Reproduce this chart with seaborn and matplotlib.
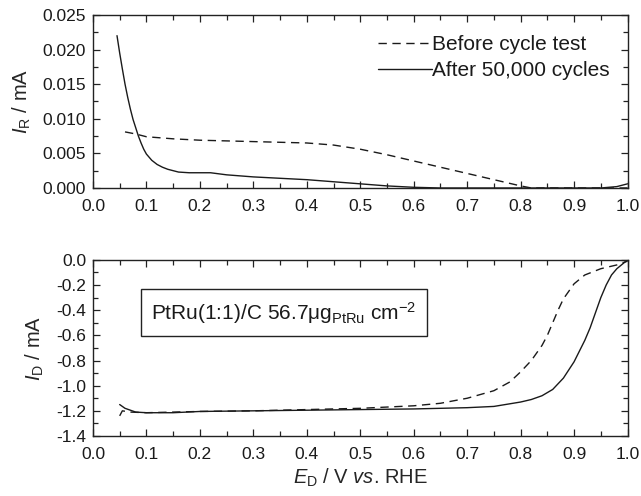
import numpy as np
import pandas as pd
import matplotlib
matplotlib.use("Agg")
import matplotlib.pyplot as plt
import seaborn as sns
from matplotlib.ticker import MultipleLocator, FormatStrFormatter

# ---------------- Daten ----------------
# oben: Ring-Strom I_R
r_before_x = [0.06, 0.08, 0.10, 0.15, 0.20, 0.25, 0.30, 0.35, 0.40, 0.45, 0.50, 0.55,
              0.60, 0.65, 0.70, 0.75, 0.80, 0.82, 0.85, 0.90, 0.95, 1.00]
r_before_y = [0.0081, 0.0078, 0.0074, 0.0071, 0.0069, 0.0068, 0.0067, 0.0066, 0.0065,
              0.0062, 0.0056, 0.0048, 0.0039, 0.0030, 0.0021, 0.0012, 0.0003, 0.0,
              0.0, 0.0, 0.0, 0.0]
r_after_x = [0.045, 0.05, 0.055, 0.06, 0.065, 0.07, 0.075, 0.08, 0.085, 0.09, 0.095, 0.10,
             0.11, 0.12, 0.13, 0.14, 0.15, 0.16, 0.18, 0.20, 0.22, 0.25, 0.30, 0.35,
             0.40, 0.45, 0.50, 0.55, 0.60, 0.65, 0.70, 0.80, 0.90, 0.95, 0.98, 1.00]
r_after_y = [0.0220, 0.0195, 0.0172, 0.0150, 0.0131, 0.0114, 0.0099, 0.0087, 0.0075,
             0.0065, 0.0056, 0.0049, 0.0040, 0.0034, 0.0030, 0.0027, 0.0025, 0.0023,
             0.0022, 0.0022, 0.0022, 0.0019, 0.0016, 0.0014, 0.0012, 0.0009, 0.0006,
             0.0003, 0.0001, 0.0, 0.0, 0.0, 0.0, 0.0, 0.0002, 0.0006]

# unten: Disk-Strom I_D
d_before_x = [0.05, 0.055, 0.07, 0.10, 0.20, 0.30, 0.40, 0.50, 0.60, 0.65, 0.70, 0.75,
              0.78, 0.80, 0.82, 0.84, 0.85, 0.86, 0.87, 0.88, 0.90, 0.92, 0.95, 0.98, 1.00]
d_before_y = [-1.24, -1.20, -1.21, -1.215, -1.205, -1.20, -1.19, -1.18, -1.16, -1.14,
              -1.10, -1.04, -0.97, -0.89, -0.80, -0.68, -0.60, -0.50, -0.40, -0.31,
              -0.19, -0.12, -0.07, -0.04, -0.01]
d_after_x = [0.05, 0.06, 0.08, 0.10, 0.15, 0.20, 0.30, 0.40, 0.50, 0.60, 0.70, 0.75,
             0.80, 0.82, 0.84, 0.86, 0.88, 0.90, 0.92, 0.93, 0.94, 0.95, 0.96, 0.97,
             0.98, 0.99, 1.00]
d_after_y = [-1.15, -1.18, -1.21, -1.215, -1.215, -1.205, -1.20, -1.195, -1.19, -1.185,
             -1.175, -1.165, -1.13, -1.11, -1.08, -1.03, -0.94, -0.81, -0.64, -0.54,
             -0.42, -0.30, -0.20, -0.12, -0.07, -0.035, 0.0]

label_before = "Before cycle test"
label_after = "After 50,000 cycles"

def make_df(xb, yb, xa, ya):
    d1 = pd.DataFrame({"E": xb, "I": yb, "Kurve": label_before})
    d2 = pd.DataFrame({"E": xa, "I": ya, "Kurve": label_after})
    return pd.concat([d1, d2], ignore_index=True)

df_ring = make_df(r_before_x, r_before_y, r_after_x, r_after_y)
df_disk = make_df(d_before_x, d_before_y, d_after_x, d_after_y)

# ---------------- Stil ----------------
sns.set_style("ticks")
plt.rcParams['font.family'] = ['Liberation Sans', 'DejaVu Sans']
plt.rcParams['mathtext.fontset'] = 'custom'
plt.rcParams['mathtext.rm'] = 'Liberation Sans'
plt.rcParams['mathtext.it'] = 'Liberation Sans:italic'
plt.rcParams['text.color'] = '#1a1a1a'

ink = '#1a1a1a'
dash_map = {label_before: (6, 4), label_after: ""}

fig = plt.figure(figsize=(6.41, 4.96), dpi=100)
ax1 = fig.add_axes([0.145, 0.621, 0.834, 0.349])
ax2 = fig.add_axes([0.145, 0.121, 0.834, 0.355])

sns.lineplot(data=df_ring, x="E", y="I", style="Kurve", dashes=dash_map, color=ink,
             linewidth=1.0, sort=False, estimator=None, ax=ax1)
sns.lineplot(data=df_disk, x="E", y="I", style="Kurve", dashes=dash_map, color=ink,
             linewidth=1.0, sort=False, estimator=None, ax=ax2, legend=False)

for ax in (ax1, ax2):
    ax.set_xlim(0.0, 1.0)
    ax.xaxis.set_major_locator(MultipleLocator(0.1))
    ax.xaxis.set_minor_locator(MultipleLocator(0.05))
    ax.xaxis.set_major_formatter(FormatStrFormatter('%.1f'))
    ax.tick_params(which='both', direction='in', top=True, right=True, colors='#222222',
                   labelcolor=ink, labelsize=12.5, width=0.9)
    ax.tick_params(which='major', length=5)
    ax.tick_params(which='minor', length=3.5)
    ax.tick_params(axis='x', which='major', pad=8)
    ax.tick_params(axis='y', which='major', pad=5)
    for s in ax.spines.values():
        s.set_linewidth(1.0)
        s.set_color('#222222')

ax1.set_ylim(0.0, 0.025)
ax1.yaxis.set_major_locator(MultipleLocator(0.005))
ax1.yaxis.set_minor_locator(MultipleLocator(0.0025))
ax1.yaxis.set_major_formatter(FormatStrFormatter('%.3f'))
ax1.set_xlabel("")
ax1.set_ylabel(r"$I_\mathrm{R}$ / mA", fontsize=14.5, labelpad=7)

leg = ax1.legend(loc='upper right', frameon=False, fontsize=15, handlelength=2.6,
                 handletextpad=0.0, borderaxespad=0.2, labelspacing=0.32,
                 bbox_to_anchor=(0.99, 0.955))
for line in leg.get_lines():
    line.set_linewidth(1.0)

ax2.set_ylim(-1.4, 0.0)
ax2.yaxis.set_major_locator(MultipleLocator(0.2))
ax2.yaxis.set_minor_locator(MultipleLocator(0.1))
ax2.yaxis.set_major_formatter(FormatStrFormatter('%.1f'))
ax2.set_xlabel(r"$E_\mathrm{D}$ / V $vs$. RHE", fontsize=14.5, labelpad=3)
ax2.set_ylabel(r"$I_\mathrm{D}$ / mA", fontsize=14.5, labelpad=7)

ax2.text(0.357, 0.70, r"PtRu(1:1)/C 56.7$\mathrm{\mu}$g$_\mathrm{PtRu}$ cm$^{-2}$",
         transform=ax2.transAxes, ha='center', va='center', fontsize=15,
         bbox=dict(boxstyle='square,pad=0.5', facecolor='white', edgecolor='#222222', linewidth=1.0))

fig.savefig("out.png", dpi=100)
